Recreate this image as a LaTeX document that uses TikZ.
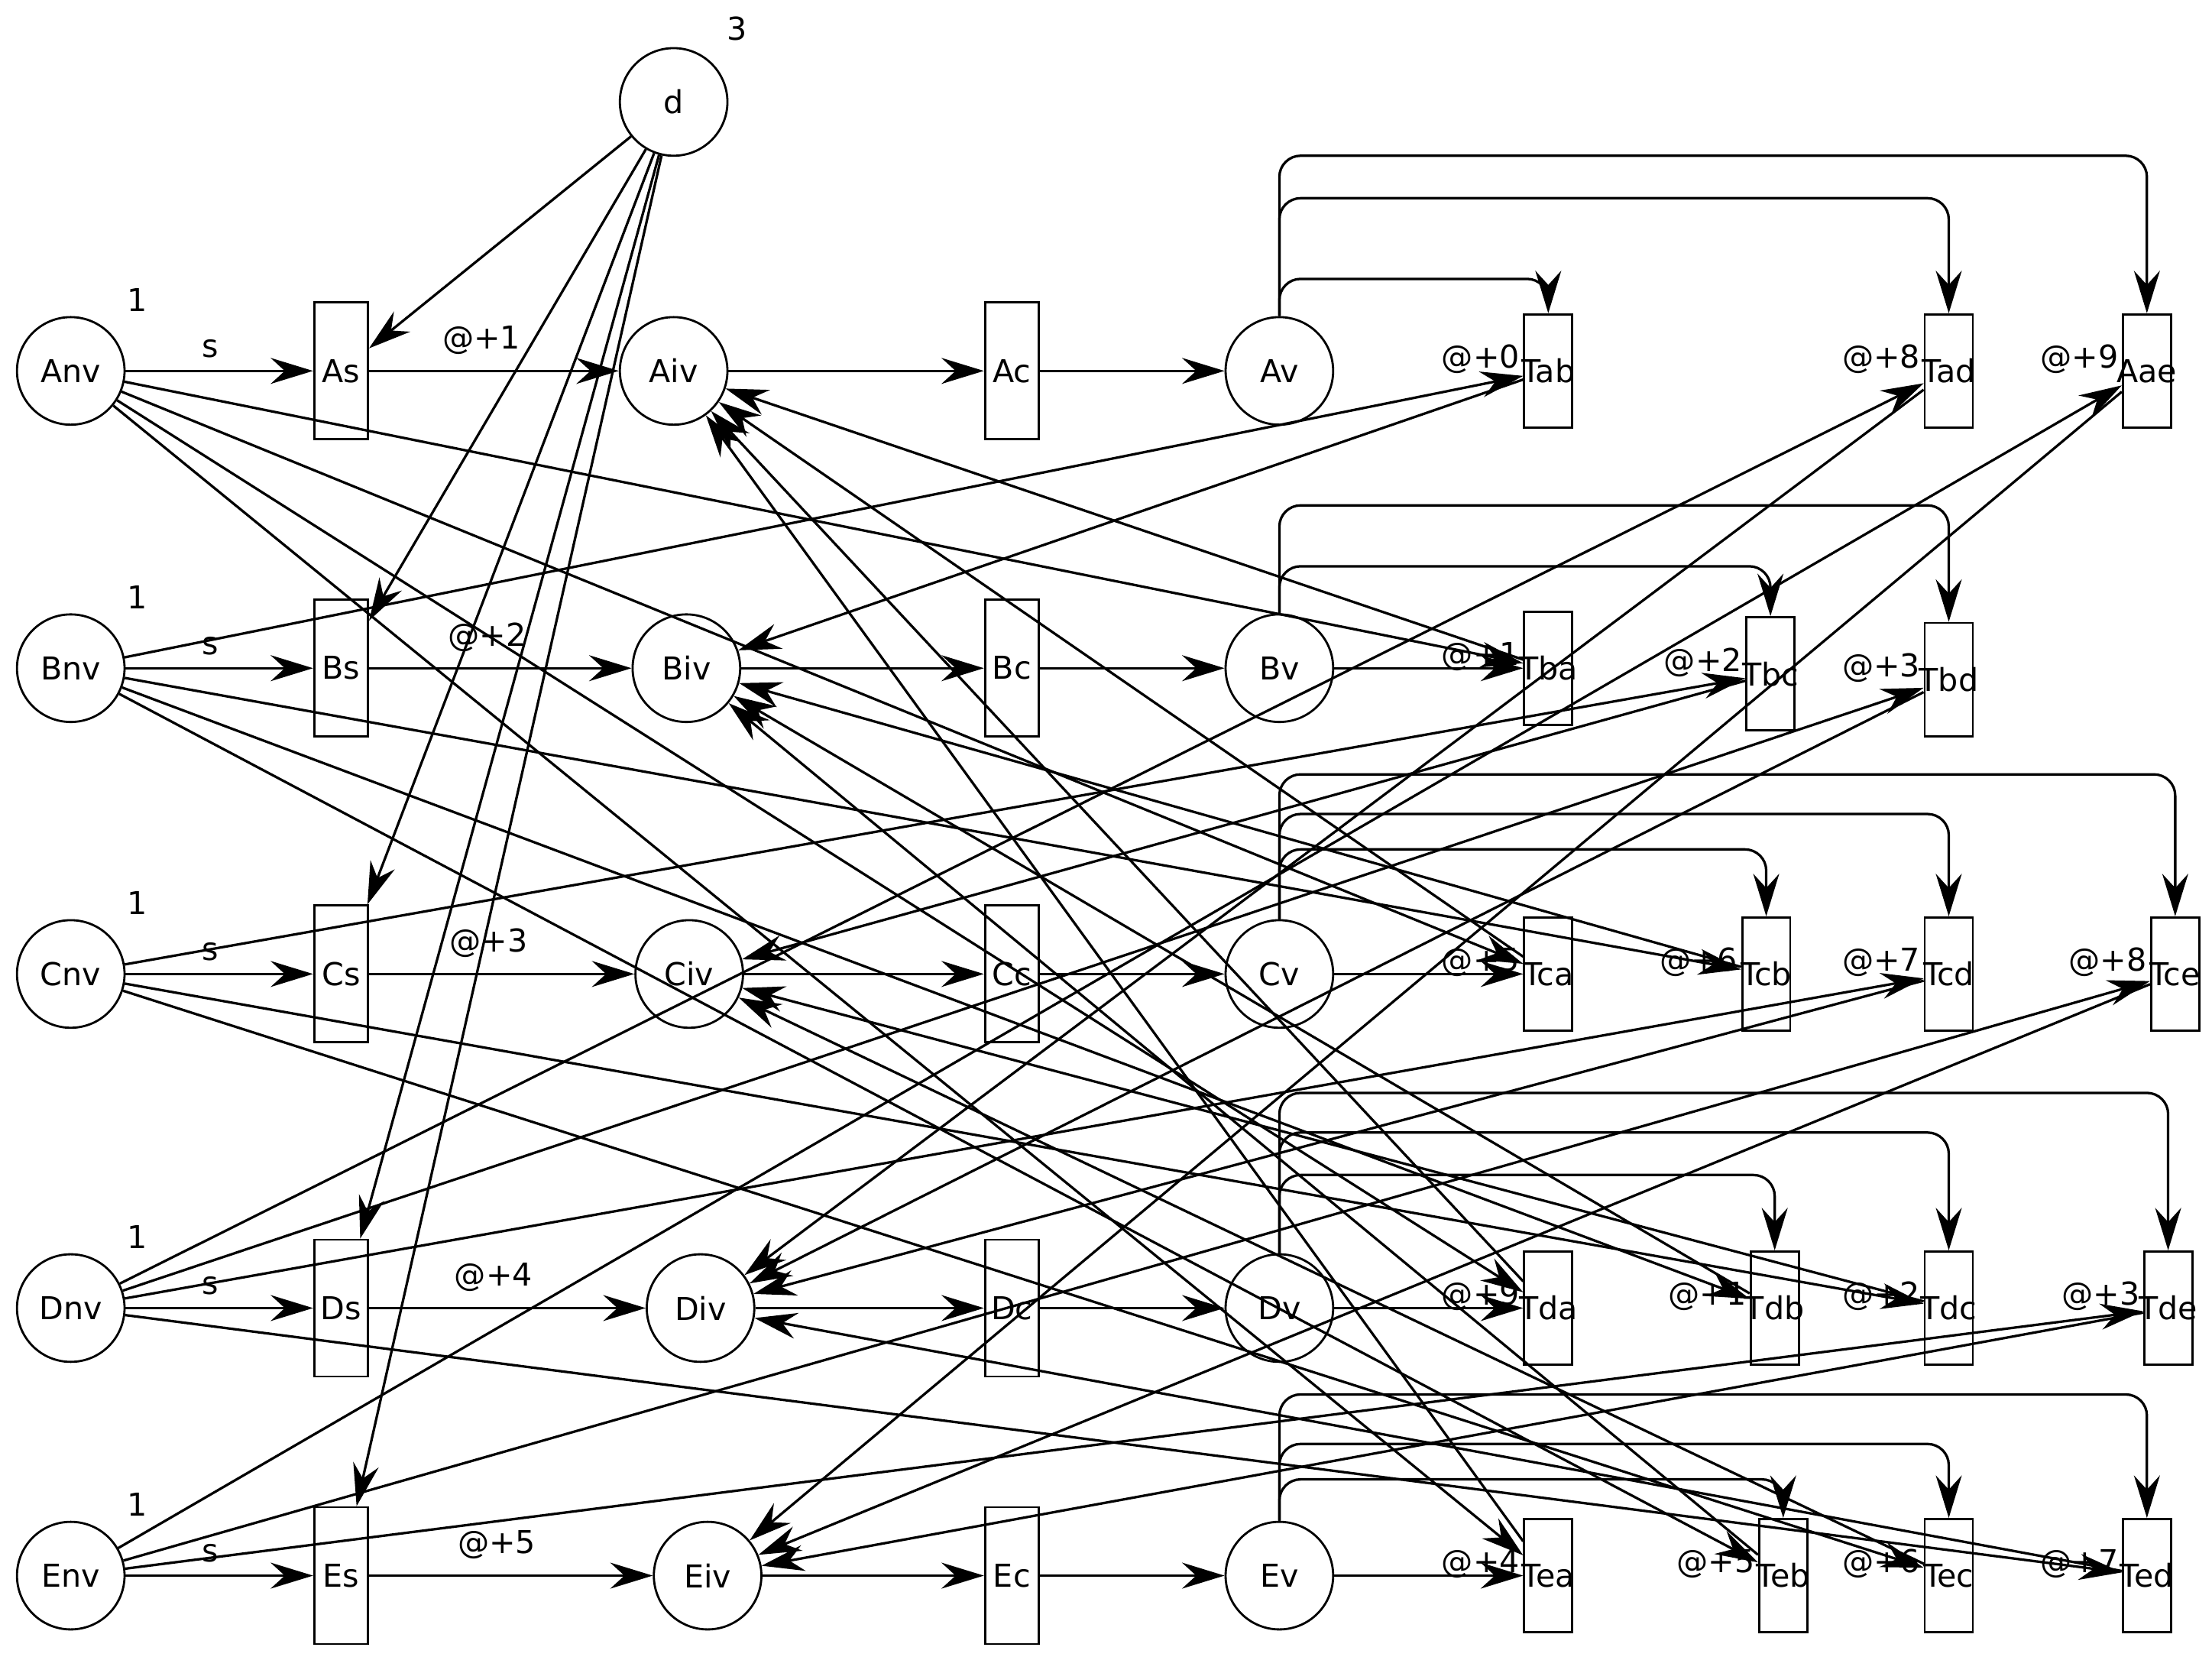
\documentclass[tikz,border=0pt]{standalone}
\usepackage{fontspec}
\setmainfont{DejaVu Sans}
\usetikzlibrary{arrows.meta}
\begin{document}
\begin{tikzpicture}[x=0.03cm,y=-0.03cm,font=\fontsize{19}{22}\selectfont,
  pl/.style={circle,draw,line width=1.3pt,minimum size=2.28cm,inner sep=0},
  tr/.style={draw,line width=1.3pt,minimum width=1.14cm,minimum height=2.9cm,inner sep=0},
  tt/.style={draw,line width=1.3pt,minimum width=1.02cm,minimum height=2.4cm,inner sep=0},
  arc/.style={line width=1.5pt,-{Stealth[length=0.9cm,width=0.55cm,inset=0.3cm]}},
  rt/.style={arc,rounded corners=0.45cm},
  lb/.style={inner sep=1pt}]
\useasboundingbox (0,0) rectangle (1563,1170);
\node[pl] (d) at (476,72) {d};
\node at (521,20) {3};
\foreach \r/\y/\iv/\k in {A/262/476/1,B/472/485/2,C/688/487/3,D/924/495/4,E/1113/500/5}{
  \node[pl] (\r nv) at (50,\y) {\r nv};
  \node at (97,\y-50) {1};
  \node[tr] (\r s) at (241,\y) {\r s};
  \node[pl] (\r iv) at (\iv,\y) {\r iv};
  \node[tr] (\r c) at (715,\y) {\r c};
  \node[pl] (\r v) at (904,\y) {\r v};
  \draw[arc] (\r nv) -- node[pos=0.45,above=4pt]{s} (\r s);
  \draw[arc] (\r s) -- node[pos=0.45,above=6pt]{@+\k} (\r iv);
  \draw[arc] (\r iv) -- (\r c);
  \draw[arc] (\r c) -- (\r v);
  \draw[arc] (d) -- (\r s);
}
\foreach \n/\x/\y in {Tab/1094/262,Tad/1377/262,Aae/1517/262,Tba/1094/472,Tbc/1251/476,Tbd/1377/480,
  Tca/1094/688,Tcb/1248/688,Tcd/1377/688,Tce/1537/688,Tda/1094/924,Tdb/1254/924,Tdc/1377/924,Tde/1532/924,
  Tea/1094/1113,Teb/1260/1113,Tec/1377/1113,Ted/1517/1113}
  \node[tt,label={[inner sep=0]center:\n}] (\n) at (\x,\y) {};
\foreach \r/\t in {B/Tba,C/Tca,D/Tda,E/Tea} \draw[arc] (\r v) -- (\t);
\foreach \r/\t/\h in {A/Tab/197,A/Tad/140,A/Aae/110,B/Tbc/400,B/Tbd/357,C/Tcb/600,C/Tcd/575,C/Tce/547,
  D/Tdb/830,D/Tdc/800,D/Tde/772,E/Teb/1045,E/Tec/1020,E/Ted/985}{
  \coordinate (h) at (0,\h);
  \draw[rt] (\r v.north) |- (h -| \t.north) -- (\t.north);
}
\foreach \t/\y/\k in {Tab/B/0,Tad/D/8,Aae/E/9,Tba/A/1,Tbc/C/2,Tbd/D/3,Tca/A/5,Tcb/B/6,Tcd/D/7,Tce/E/8,
  Tda/A/9,Tdb/B/1,Tdc/C/2,Tde/E/3,Tea/A/4,Teb/B/5,Tec/C/6,Ted/D/7}{
  \draw[arc] (\y nv) -- (\t);
  \node[lb,anchor=south east] at ([xshift=-0.03cm,yshift=-0.1cm]\t.west) {@+\k};
  \draw[arc] (\t) -- (\y iv);
}
\end{tikzpicture}
\end{document}
